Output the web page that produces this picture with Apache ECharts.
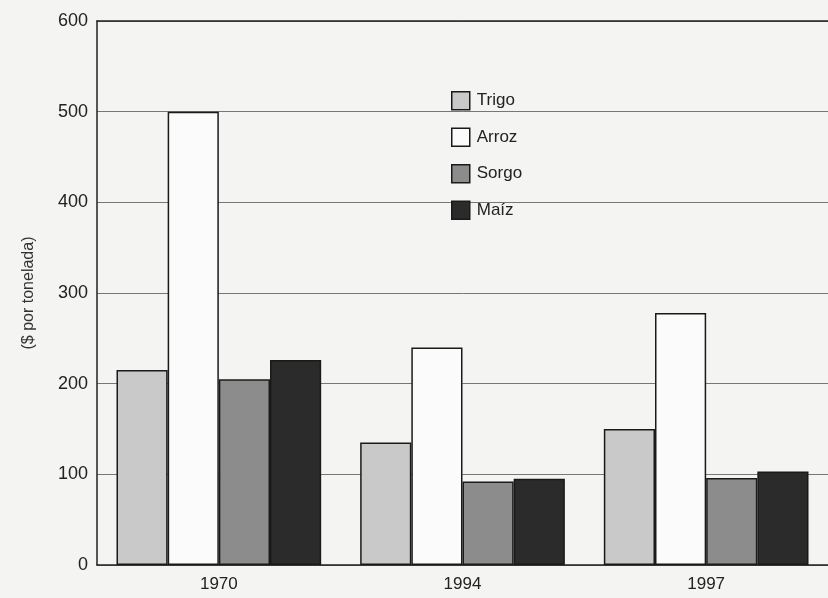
<!DOCTYPE html>
<html><head><meta charset="utf-8">
<script src="https://cdn.jsdelivr.net/npm/echarts@6/dist/echarts.min.js"></script>
<style>html,body{margin:0;padding:0;background:#f4f4f3}#c{width:828px;height:598px}</style>
</head><body><div id="c"></div>
<script>
const years = ['1970', '1994', '1997'];
const trigo = [215, 135, 150];
const arroz = [500, 240, 278];
const sorgo = [205, 92, 96];
const maiz = [226, 95, 103];
const yTicks = [0, 100, 200, 300, 400, 500, 600];

const font = 'Liberation Sans';
const chart = echarts.init(document.getElementById('c'));
function s(name, data, color) {
  return { name, type: 'bar', data, barGap: '0%', barCategoryGap: '16%',
    itemStyle: { color, borderColor: '#1a1a1a', borderWidth: 1.5 } };
}
chart.setOption({
  backgroundColor: '#f4f4f3',
  animation: false,
  grid: { left: 97, right: -4, top: 21, bottom: 33 },
  legend: {
    orient: 'vertical', left: 446, top: 86, itemWidth: 18, itemHeight: 18, itemGap: 17,
    icon: 'rect',
    textStyle: { fontFamily: font, fontSize: 17, color: '#222', padding: [0, 0, 0, 2] },
    data: ['Trigo', 'Arroz', 'Sorgo', 'Maíz'],
    itemStyle: { borderColor: '#1a1a1a', borderWidth: 1.5 }
  },
  xAxis: [{
    type: 'category', data: years,
    axisLine: { lineStyle: { color: '#222', width: 1.5 } },
    axisTick: { show: false },
    axisLabel: { fontFamily: font, fontSize: 17, color: '#222', margin: 11 }
  }, {
    type: 'category', data: years, position: 'top',
    axisLine: { lineStyle: { color: '#222', width: 1.5 } },
    axisTick: { show: false }, axisLabel: { show: false }
  }],
  yAxis: {
    type: 'value', min: yTicks[0], max: yTicks[yTicks.length - 1], interval: 100,
    name: '($ por tonelada)', nameLocation: 'middle', nameGap: 60,
    nameTextStyle: { fontFamily: font, fontSize: 16, color: '#333' },
    axisLine: { show: true, lineStyle: { color: '#222', width: 1.5 } },
    axisTick: { show: false },
    axisLabel: { fontFamily: font, fontSize: 18, color: '#222', margin: 9 },
    splitLine: { lineStyle: { color: '#777', width: 1 } }
  },
  series: [
    s('Trigo', trigo, '#c9c9c9'),
    s('Arroz', arroz, '#fbfbfb'),
    s('Sorgo', sorgo, '#8c8c8c'),
    s('Maíz', maiz, '#2b2b2b')
  ]
});
</script></body></html>
